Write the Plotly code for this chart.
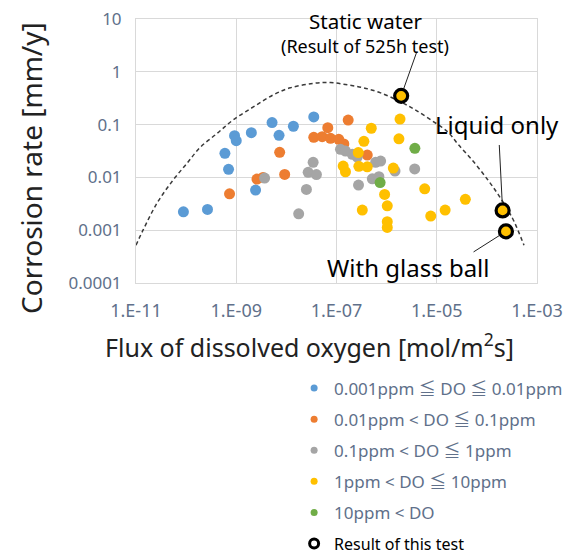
import math
import plotly.graph_objects as go

# ---- data ----
blue_x = [8.83e-11, 2.67e-10, 5.94e-10, 7.02e-10, 9.25e-10, 1.0e-9, 2.0e-9, 2.43e-9,
          5.18e-9, 7.14e-9, 1.38e-8, 3.52e-8]
blue_y = [2.23e-3, 2.47e-3, 0.0286, 0.0142, 0.0617, 0.0497, 0.0703, 5.75e-3,
          0.109, 0.0628, 0.0931, 0.140]

orange_x = [7.35e-10, 2.59e-9, 3.42e-9, 7.35e-9, 9.25e-9, 3.52e-8, 5.18e-8, 6.70e-8,
            7.59e-8, 1.11e-7, 1.40e-7, 1.71e-7, 4.11e-7]
orange_y = [4.89e-3, 9.29e-3, 0.0100, 0.0299, 0.0114, 0.0575, 0.0591, 0.0876,
            0.0551, 0.0527, 0.0430, 0.122, 0.0265]

gray_x = [3.68e-9, 1.76e-8, 2.51e-8, 2.72e-8, 3.42e-8, 3.98e-8, 1.20e-7, 1.51e-7,
          2.06e-7, 2.59e-7, 6.03e-7, 7.59e-7, 1.47e-6, 3.63e-6, 2.75e-7, 5.18e-7, 7.02e-7]
gray_y = [9.70e-3, 2.04e-3, 5.93e-3, 0.0125, 0.0193, 0.0113, 0.0340, 0.0316,
          0.0274, 0.0243, 0.0193, 0.0204, 0.0132, 0.0145, 7.16e-3, 9.42e-3, 0.0103]

yellow_x = [1.85e-6, 4.94e-7, 1.76e-6, 3.52e-7, 2.72e-7, 1.36e-7, 1.51e-7, 2.79e-7,
            4.11e-7, 1.36e-6, 9.12e-7, 1.03e-6, 3.27e-7, 1.03e-6, 1.03e-6, 5.75e-6,
            7.59e-6, 1.47e-5, 3.72e-5]
yellow_y = [0.127, 0.0853, 0.0539, 0.0483, 0.0296, 0.0164, 0.0128, 0.0162,
            0.0159, 0.0150, 4.76e-3, 2.90e-3, 2.40e-3, 1.45e-3, 1.13e-3, 6.08e-3,
            1.85e-3, 2.40e-3, 3.85e-3]

green_x = [3.66e-6, 7.41e-7]
green_y = [0.0356, 7.98e-3]

test_x = [1.95e-6, 2.06e-4, 2.40e-4]
test_y = [0.350, 2.37e-3, 9.5e-4]
test_labels = ["Static water", "Liquid only", "With glass ball"]

curve_x = [1.0e-11, 1.38e-11, 2.63e-11, 5.50e-11, 1.05e-10, 1.91e-10, 4.17e-10, 8.71e-10,
           2.19e-9, 5.50e-9, 1.20e-8, 3.47e-8, 7.59e-8, 1.66e-7, 3.47e-7, 7.59e-7,
           1.91e-6, 3.47e-6, 7.59e-6, 1.66e-5, 2.63e-5, 5.50e-5, 1.05e-4, 1.66e-4,
           2.63e-4, 3.47e-4, 5.50e-4]
curve_y = [5.2e-4, 1.0e-3, 3.26e-3, 8.9e-3, 0.0187, 0.0371, 0.0684, 0.123,
           0.216, 0.366, 0.497, 0.604, 0.627, 0.566, 0.497, 0.399,
           0.269, 0.198, 0.123, 0.0726, 0.0430, 0.0195, 8.9e-3, 4.83e-3,
           2.40e-3, 1.48e-3, 5.2e-4]

x_tickvals = [1e-11, 1e-9, 1e-7, 1e-5, 1e-3]
x_ticktext = ["1.E-11", "1.E-09", "1.E-07", "1.E-05", "1.E-03"]
y_tickvals = [1e-4, 1e-3, 1e-2, 1e-1, 1, 10]
y_ticktext = ["0.0001", "0.001", "0.01", "0.1", "1", "10"]

series = [
    ("0.001ppm ≦ DO ≦ 0.01ppm", blue_x, blue_y, "#5B9BD5"),
    ("0.01ppm < DO ≦ 0.1ppm", orange_x, orange_y, "#ED7D31"),
    ("0.1ppm < DO ≦ 1ppm", gray_x, gray_y, "#A5A5A5"),
    ("1ppm < DO ≦ 10ppm", yellow_x, yellow_y, "#FFC000"),
    ("10ppm < DO", green_x, green_y, "#70AD47"),
]

FONT = "Noto Sans, Noto Sans CJK JP, sans-serif"
TICK_COL = "#60708a"
X_RANGE = [-11, -3]
Y_RANGE = [-4, 1]

fig = go.Figure()

# trend curve
fig.add_trace(go.Scatter(x=curve_x, y=curve_y, mode="lines", line_shape="spline",
                         line=dict(color="#3a3a3a", width=1.5, dash="4px,3px"),
                         showlegend=False, hoverinfo="skip"))

for i, (name, xs, ys, col) in enumerate(series):
    fig.add_trace(go.Scatter(x=xs, y=ys, mode="markers", showlegend=False,
                             marker=dict(size=11, color=col, line=dict(width=0)),
                             name=name))
fig.add_trace(go.Scatter(x=test_x, y=test_y, mode="markers", showlegend=False,
                         marker=dict(size=13, color="#FFC000",
                                     line=dict(width=3.2, color="black")),
                         name="Result of this test"))

# legend entries
for i, (name, xs, ys, col) in enumerate(series):
    fig.add_trace(go.Scatter(x=[None], y=[None], mode="markers", name=name,
                             legendgroup=f"g{i}",
                             marker=dict(size=7, color=col)))
fig.add_trace(go.Scatter(x=[None], y=[None], mode="markers",
                         name="<span style='color:black;font-size:16px'>Result of this test</span>",
                         legendgroup="g9",
                         marker=dict(size=9, color="white", line=dict(width=3, color="black"))))

# page offset (body margin) -> figure is placed 8px in from the window corner
OFF = 8
W, H = 582 - OFF, 555 - OFF
# plot area in window pixels
X0, X1, Y0, Y1 = 136, 536.7, 19.3, 282.7
L, T = X0 - OFF, Y0 - OFF
R = W - (X1 - OFF)
B = H - (Y1 - OFF)
pw, ph = X1 - X0, Y1 - Y0

def px(x):
    return (x - X0) / pw

def py(y):
    return (Y1 - y) / ph

# data -> window pixel (through the axis ranges)
def sx(v):
    return X0 + (math.log10(v) - X_RANGE[0]) / (X_RANGE[1] - X_RANGE[0]) * pw

def sy(v):
    return Y1 - (math.log10(v) - Y_RANGE[0]) / (Y_RANGE[1] - Y_RANGE[0]) * ph

# connector lines from label to ring edge
starts = [(416.7, 51.7), (499, 145), (473.3, 251.7)]
shapes = []
for (x_s, y_s), tx, ty in zip(starts, test_x, test_y):
    cx, cy = sx(tx), sy(ty)
    dx, dy = cx - x_s, cy - y_s
    d = math.hypot(dx, dy)
    ex, ey = cx - dx / d * 8, cy - dy / d * 8
    shapes.append(dict(type="line", xref="paper", yref="paper",
                       x0=px(x_s), y0=py(y_s), x1=px(ex), y1=py(ey),
                       line=dict(color="#222", width=1)))

def label(xs, ys, text, size, color="black", angle=0):
    return dict(x=px(xs), y=py(ys), xref="paper", yref="paper", text=text,
                xanchor="center", yanchor="middle", showarrow=False, textangle=angle,
                font=dict(size=size, color=color, family=FONT))

ann = [
    label(365.5, 21, test_labels[0], 20.5),
    label(365, 46, "(Result of 525h test)", 18),
    label(496.7, 125, test_labels[1], 24),
    label(408, 267, test_labels[2], 24),
    # axis titles
    label(309, 345, "Flux of dissolved oxygen [mol/m<sup>2</sup>s]", 25, "#222"),
    label(31, 168, "Corrosion rate [mm/y]", 28, "#222", -90),
]

fig.update_layout(
    width=W, height=H,
    margin=dict(l=L, r=R, t=T, b=B, autoexpand=False),
    paper_bgcolor="white", plot_bgcolor="white",
    font=dict(family=FONT, color=TICK_COL),
    annotations=ann, shapes=shapes,
    legend=dict(x=px(294), y=py(370), xanchor="left", yanchor="top",
                font=dict(size=17, color=TICK_COL, family=FONT),
                tracegroupgap=6, bgcolor="rgba(0,0,0,0)"),
)
fig.update_xaxes(type="log", range=X_RANGE, tickvals=x_tickvals, ticktext=x_ticktext,
                 showgrid=True, gridcolor="#d9d9d9", gridwidth=1,
                 showline=True, linecolor="#d9d9d9", mirror=True, zeroline=False,
                 ticks="", tickfont=dict(size=18, color=TICK_COL), ticklabelstandoff=11,
                 ticklabeloverflow="allow")
fig.update_yaxes(type="log", range=Y_RANGE, tickvals=y_tickvals, ticktext=y_ticktext,
                 showgrid=True, gridcolor="#d9d9d9", gridwidth=1,
                 showline=True, linecolor="#d9d9d9", mirror=True, zeroline=False,
                 ticks="", tickfont=dict(size=17, color=TICK_COL), ticklabelstandoff=10,
                 ticklabeloverflow="allow")

fig.write_html("out.html")
